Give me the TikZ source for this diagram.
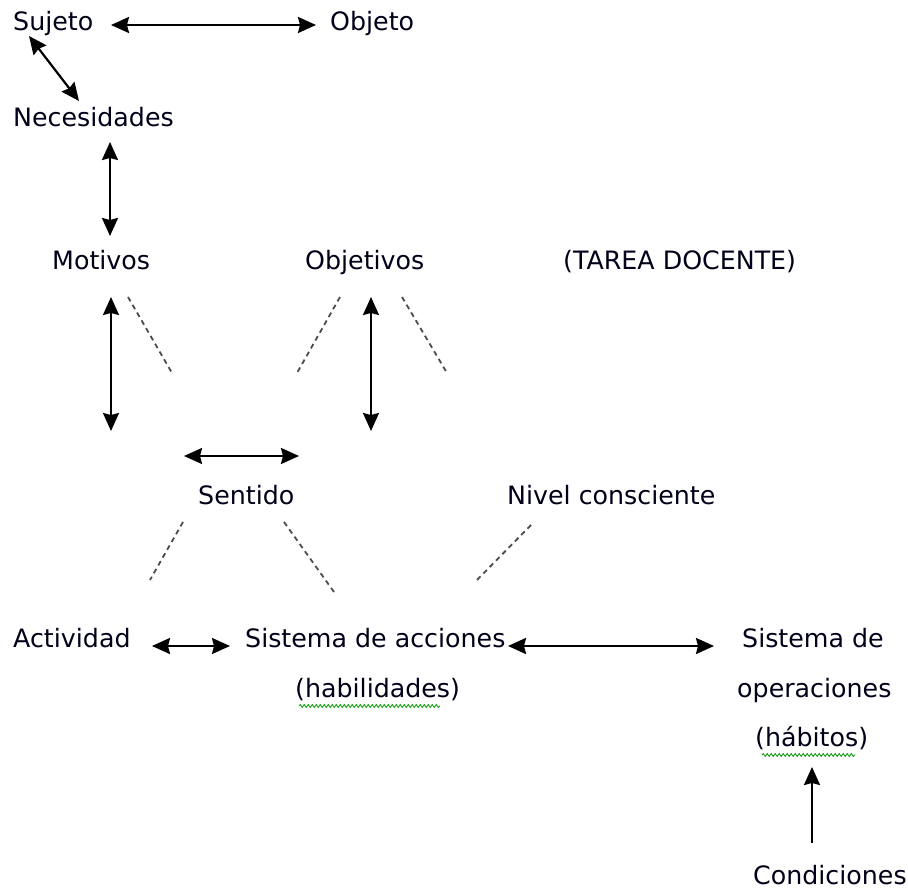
\documentclass[tikz,border=0pt]{standalone}
\usepackage{fontspec}
\setmainfont{DejaVu Sans}
\usetikzlibrary{arrows.meta,decorations.pathmorphing}
\begin{document}
\begin{tikzpicture}[x=1pt,y=-1pt,
  lbl/.style={anchor=base west,inner sep=0pt,font=\fontsize{25.3}{30}\selectfont,text=black!90!blue},
  hd/.tip={Stealth[length=18pt,width=16pt,inset=2pt]},
  dbl/.style={line width=2.2pt,hd-hd},
  sgl/.style={line width=2.2pt,-hd},
  dsh/.style={line width=1.8pt,dash pattern=on 5pt off 4pt,black!70},
  squig/.style={green!60!black,line width=0.8pt,decorate,decoration={snake,amplitude=1.5pt,segment length=4pt}}]
\useasboundingbox (0,0) rectangle (908,890);
% texts
\node[lbl] (suj) at (13,31) {Sujeto};
\node[lbl] (obj) at (330,31) {Objeto};
\node[lbl] (nec) at (13,127) {Necesidades};
\node[lbl] (mot) at (52,270) {Motivos};
\node[lbl] (objv) at (305,270) {Objetivos};
\node[lbl] (tarea) at (563,270) {(TAREA DOCENTE)};
\node[lbl] (sen) at (198,504) {Sentido};
\node[lbl] (niv) at (507,504) {Nivel consciente};
\node[lbl] (act) at (13,647) {Actividad};
\node[lbl] (acc) at (245,647) {Sistema de acciones};
\node[lbl] (hab) at (295,697) {(habilidades)};
\node[lbl] (op1) at (742,647) {Sistema de};
\node[lbl] (op2) at (737,697) {operaciones};
\node[lbl] (op3) at (755,746) {(hábitos)};
\node[lbl] (cond) at (753,884) {Condiciones};
% arrow end points
\coordinate (a1) at (111,25);  \coordinate (a2) at (316,25);
\coordinate (b1) at (29,36);   \coordinate (b2) at (79,101);
\coordinate (c1) at (110,142); \coordinate (c2) at (110,236);
\coordinate (d1) at (111,297); \coordinate (d2) at (111,431);
\coordinate (e1) at (371,297); \coordinate (e2) at (371,431);
\coordinate (f1) at (184,456); \coordinate (f2) at (299,456);
\coordinate (g1) at (152,646); \coordinate (g2) at (230,646);
\coordinate (h1) at (508,646); \coordinate (h2) at (714,646);
\coordinate (i1) at (812,843); \coordinate (i2) at (812,767);
\draw[dbl] (a1) -- (a2);
\draw[dbl] (b1) -- (b2);
\draw[dbl] (c1) -- (c2);
\draw[dbl] (d1) -- (d2);
\draw[dbl] (e1) -- (e2);
\draw[dbl] (f1) -- (f2);
\draw[dbl] (g1) -- (g2);
\draw[dbl] (h1) -- (h2);
\draw[sgl] (i1) -- (i2);
% dashed lines
\coordinate (j1) at (128,297); \coordinate (j2) at (172,373);
\coordinate (k1) at (340,297); \coordinate (k2) at (297,373);
\coordinate (l1) at (402,297); \coordinate (l2) at (447,373);
\coordinate (m1) at (183,522); \coordinate (m2) at (150,580);
\coordinate (n1) at (284,522); \coordinate (n2) at (334,592);
\coordinate (o1) at (531,525); \coordinate (o2) at (477,580);
\draw[dsh] (j1) -- (j2);
\draw[dsh] (k1) -- (k2);
\draw[dsh] (l1) -- (l2);
\draw[dsh] (m1) -- (m2);
\draw[dsh] (n1) -- (n2);
\draw[dsh] (o1) -- (o2);
% spell-check squiggles
\coordinate (s1) at (299,706); \coordinate (s2) at (440,706);
\coordinate (t1) at (762,755); \coordinate (t2) at (855,755);
\draw[squig] (s1) -- (s2);
\draw[squig] (t1) -- (t2);
\end{tikzpicture}
\end{document}
